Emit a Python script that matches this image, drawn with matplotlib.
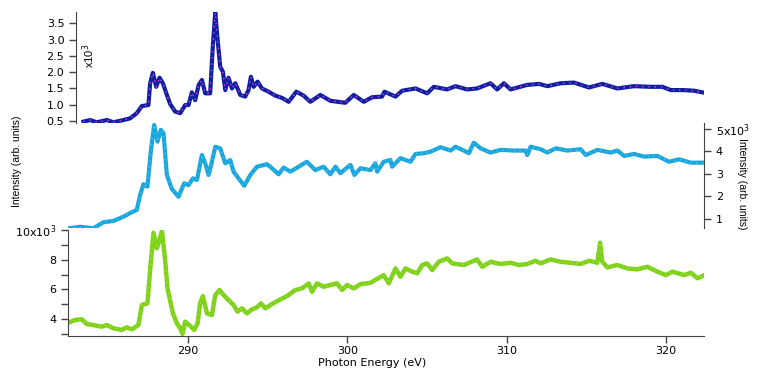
# Three stacked NEXAFS-style spectra sharing one photon energy axis
import numpy as np
import matplotlib.pyplot as plt
from matplotlib.ticker import FixedLocator, FixedFormatter

plt.rcParams['font.family'] = ['DejaVu Sans']
plt.rcParams['font.size'] = 8

# Top spectrum (x10^3)
e_top = [283.42, 283.84, 284.26, 284.89, 285.3, 285.93, 286.35, 286.77, 287.09, 287.5,
         287.61, 287.78, 287.99, 288.2, 288.41, 288.66, 288.87, 289.18, 289.5, 289.81,
         290.02, 290.23, 290.44, 290.65, 290.86, 291.07, 291.38, 291.55, 291.7, 291.84,
         292.01, 292.18, 292.33, 292.53, 292.75, 292.96, 293.27, 293.58, 293.79, 293.94,
         294.11, 294.36, 294.63, 295.05, 295.47, 295.89, 296.31, 296.79, 297.25, 297.67,
         298.3, 298.93, 299.87, 300.4, 301.03, 301.55, 302.18, 302.33, 303.02, 303.44,
         304.28, 305.01, 305.43, 306.26, 306.79, 307.52, 308.15, 308.99, 309.41, 309.83,
         310.25, 311.3, 312.04, 312.56, 313.4, 314.23, 315.18, 316.01, 316.96, 318.0,
         319.06, 319.79, 320.31, 321.15, 321.78, 322.41]
i_top = [0.48, 0.53, 0.46, 0.53, 0.46, 0.53, 0.58, 0.74, 0.96, 0.99,
         1.66, 1.98, 1.55, 1.83, 1.66, 1.30, 1.02, 0.79, 0.74, 0.99,
         0.99, 1.38, 1.14, 1.60, 1.76, 1.35, 1.35, 2.83, 3.83, 3.04,
         2.17, 2.01, 1.45, 1.83, 1.50, 1.66, 1.30, 1.25, 1.45, 1.86,
         1.55, 1.71, 1.50, 1.40, 1.28, 1.21, 1.09, 1.40, 1.28, 1.09,
         1.30, 1.12, 1.06, 1.30, 1.09, 1.23, 1.25, 1.40, 1.25, 1.43,
         1.50, 1.35, 1.55, 1.47, 1.57, 1.47, 1.50, 1.66, 1.47, 1.66,
         1.47, 1.61, 1.64, 1.57, 1.66, 1.68, 1.53, 1.64, 1.50, 1.57,
         1.55, 1.55, 1.45, 1.45, 1.43, 1.37]

# Middle spectrum (x10^3)
e_mid = [282.47, 283.21, 284.04, 284.67, 285.3, 285.93, 286.46, 286.77, 286.98, 287.19,
         287.44, 287.65, 287.86, 288.07, 288.28, 288.45, 288.66, 288.97, 289.39, 289.75,
         290.02, 290.3, 290.55, 290.86, 291.07, 291.28, 291.49, 291.7, 292.01, 292.33,
         292.64, 292.85, 293.16, 293.52, 293.9, 294.32, 294.95, 295.26, 295.68, 295.99,
         296.42, 296.94, 297.45, 297.99, 298.51, 298.93, 299.25, 299.56, 299.98, 300.19,
         300.44, 300.82, 301.45, 301.76, 301.87, 302.28, 302.7, 302.81, 303.33, 303.96,
         304.28, 304.8, 305.22, 305.85, 306.48, 306.79, 307.31, 307.63, 307.94, 308.36,
         308.99, 309.62, 310.46, 311.19, 311.3, 311.51, 312.14, 312.56, 313.08, 313.81,
         314.65, 314.97, 315.7, 316.54, 316.96, 317.38, 318.0, 318.63, 319.47, 320.2,
         320.83, 321.57, 322.41]
i_mid = [0.57, 0.64, 0.57, 0.84, 0.90, 1.09, 1.29, 1.39, 2.06, 2.54,
         2.43, 3.99, 5.18, 4.44, 4.96, 4.81, 2.95, 2.33, 1.98, 2.58,
         2.50, 2.80, 2.73, 3.84, 3.47, 2.95, 3.54, 4.21, 4.14, 3.47,
         3.62, 3.10, 2.80, 2.47, 2.95, 3.32, 3.43, 3.25, 2.98, 3.28,
         3.10, 3.32, 3.54, 3.17, 3.32, 2.98, 3.32, 3.03, 3.28, 3.40,
         2.95, 3.25, 3.17, 3.47, 3.10, 3.54, 3.62, 3.32, 3.70, 3.54,
         3.89, 3.92, 3.99, 4.19, 4.04, 4.21, 4.04, 3.92, 4.39, 4.14,
         3.95, 4.07, 4.04, 4.04, 3.84, 4.21, 4.10, 3.95, 4.14, 4.04,
         4.10, 3.84, 4.07, 3.95, 4.04, 3.80, 3.89, 3.77, 3.80, 3.54,
         3.65, 3.50, 3.50]

# Bottom spectrum (x10^3)
e_bot = [282.47, 282.89, 283.31, 283.63, 284.04, 284.57, 284.89, 285.3, 285.83, 286.14,
         286.46, 286.87, 287.09, 287.44, 287.61, 287.82, 288.03, 288.13, 288.35, 288.55,
         288.7, 289.04, 289.29, 289.5, 289.64, 289.81, 290.13, 290.38, 290.59, 290.75,
         290.92, 291.18, 291.49, 291.7, 291.97, 292.22, 292.53, 292.85, 293.1, 293.38,
         293.69, 294.0, 294.32, 294.57, 294.84, 295.26, 295.79, 296.21, 296.73, 297.15,
         297.57, 297.78, 298.09, 298.51, 298.93, 299.35, 299.67, 299.98, 300.4, 300.82,
         301.45, 302.28, 302.6, 303.02, 303.33, 303.65, 304.07, 304.38, 304.7, 305.01,
         305.33, 305.74, 306.27, 306.58, 307.31, 308.15, 308.47, 308.99, 309.62, 310.25,
         310.77, 311.3, 311.82, 312.14, 312.77, 313.4, 314.02, 314.65, 315.18, 315.7,
         315.87, 316.01, 316.33, 316.96, 317.59, 318.21, 318.84, 319.47, 320.0, 320.42,
         321.15, 321.57, 322.0, 322.41]
i_bot = [3.75, 3.93, 3.98, 3.66, 3.59, 3.48, 3.59, 3.37, 3.26, 3.44,
         3.30, 3.59, 4.95, 5.06, 7.31, 9.83, 8.78, 9.11, 9.97, 7.99,
         6.07, 4.38, 3.71, 3.37, 2.99, 3.82, 3.53, 3.26, 3.71, 5.06,
         5.55, 4.38, 4.27, 5.62, 5.96, 5.62, 5.28, 4.95, 4.50, 4.72,
         4.38, 4.65, 4.79, 5.06, 4.72, 5.01, 5.33, 5.55, 5.96, 6.07,
         6.41, 5.84, 6.41, 6.18, 6.30, 6.41, 5.96, 6.30, 6.07, 6.36,
         6.45, 6.97, 6.41, 7.42, 6.86, 7.42, 7.20, 7.09, 7.65, 7.76,
         7.31, 7.87, 8.10, 7.76, 7.65, 8.03, 7.53, 7.87, 7.72, 7.80,
         7.65, 7.72, 7.94, 7.76, 8.03, 7.87, 7.80, 7.72, 7.94, 7.80,
         9.16, 7.87, 7.49, 7.65, 7.42, 7.36, 7.53, 7.20, 6.97, 7.20,
         6.97, 7.13, 6.75, 6.97]

xlim = (282.45, 322.4)
axis_col = '#444444'
narrow = ['Liberation Sans', 'DejaVu Sans']  # rotated labels look less stretched

fig = plt.figure(figsize=(7.57, 3.70), dpi=100)
left, width = 68 / 757, (704 - 68) / 757
ax_top = fig.add_axes([left, 0.6686, width, 0.9676 - 0.6686])
ax_mid = fig.add_axes([left, 0.3838, width, 0.6676 - 0.3838])
ax_bot = fig.add_axes([left, 0.0919, width, 0.3776 - 0.0919])

for ax in (ax_top, ax_mid, ax_bot):
    ax.set_xlim(*xlim)
    ax.patch.set_alpha(0)
    for s in ax.spines.values():
        s.set_visible(False)
        s.set_color(axis_col)
    ax.tick_params(colors=axis_col, labelcolor='black', width=1.0, length=5, labelsize=8)

# top
ax_top.plot(e_top, i_top, color='#0e1fa3', lw=3.0, solid_joinstyle='round')
ax_top.plot(e_top, i_top, color='#e040d8', lw=1.0, dashes=(1, 3.5))
ax_top.set_ylim(0.45, 3.85)
ax_top.spines['left'].set_visible(True)
ax_top.spines['left'].set_position(('data', 282.96))
ax_top.set_xticks([])
ax_top.set_yticks([0.5, 1.0, 1.5, 2.0, 2.5, 3.0, 3.5])
ax_top.yaxis.set_major_formatter(FixedFormatter(['0.5', '1.0', '1.5', '2.0', '2.5', '3.0', '3.5']))
ax_top.text(89 / 757, 1 - 56 / 370, r'x10$^3$', transform=fig.transFigure, rotation=90,
            ha='center', va='center', fontsize=8, family=narrow)

# middle
ax_mid.plot(e_mid, i_mid, color='#1aa6dc', lw=3.0, solid_joinstyle='round')
ax_mid.plot(e_mid, i_mid, color='#3fd0f8', lw=0.9, dashes=(1, 3.5))
ax_mid.set_ylim(0.585, 5.27)
ax_mid.spines['right'].set_visible(True)
ax_mid.set_xticks([])
ax_mid.yaxis.tick_right()
ax_mid.yaxis.set_major_locator(FixedLocator([1, 2, 3, 4, 5]))
ax_mid.yaxis.set_major_formatter(FixedFormatter(['1', '2', '3', '4', r'5x10$^3$']))

# bottom
ax_bot.plot(e_bot, i_bot, color='#7fd21a', lw=3.2, solid_joinstyle='round')
ax_bot.plot(e_bot, i_bot, color='#a2e53a', lw=0.9, dashes=(1, 3.5))
ax_bot.set_ylim(2.85, 10.0)
ax_bot.spines['left'].set_visible(True)
ax_bot.spines['bottom'].set_visible(True)
ax_bot.yaxis.set_major_locator(FixedLocator([4, 6, 8, 10]))
ax_bot.yaxis.set_major_formatter(FixedFormatter(['4', '6', '8', r'10x10$^3$']))
ax_bot.yaxis.set_minor_locator(FixedLocator([3, 5, 7, 9]))
ax_bot.tick_params(axis='y', which='minor', length=5, width=1.0, colors=axis_col)
ax_bot.set_xticks([290, 300, 310, 320])
ax_bot.tick_params(axis='x', length=5, pad=2)

fig.text(17 / 757, 1 - 161 / 370, 'Intensity (arb. units)', rotation=90,
         ha='center', va='center', fontsize=7.5, family=narrow)
fig.text(742 / 757, 1 - 184 / 370, 'Intensity (arb. units)', rotation=270,
         ha='center', va='center', fontsize=7.5, family=narrow)
fig.text(372 / 757, 1 - 363 / 370, 'Photon Energy (eV)', ha='center', va='center', fontsize=8)

fig.savefig('out.png', dpi=100)
